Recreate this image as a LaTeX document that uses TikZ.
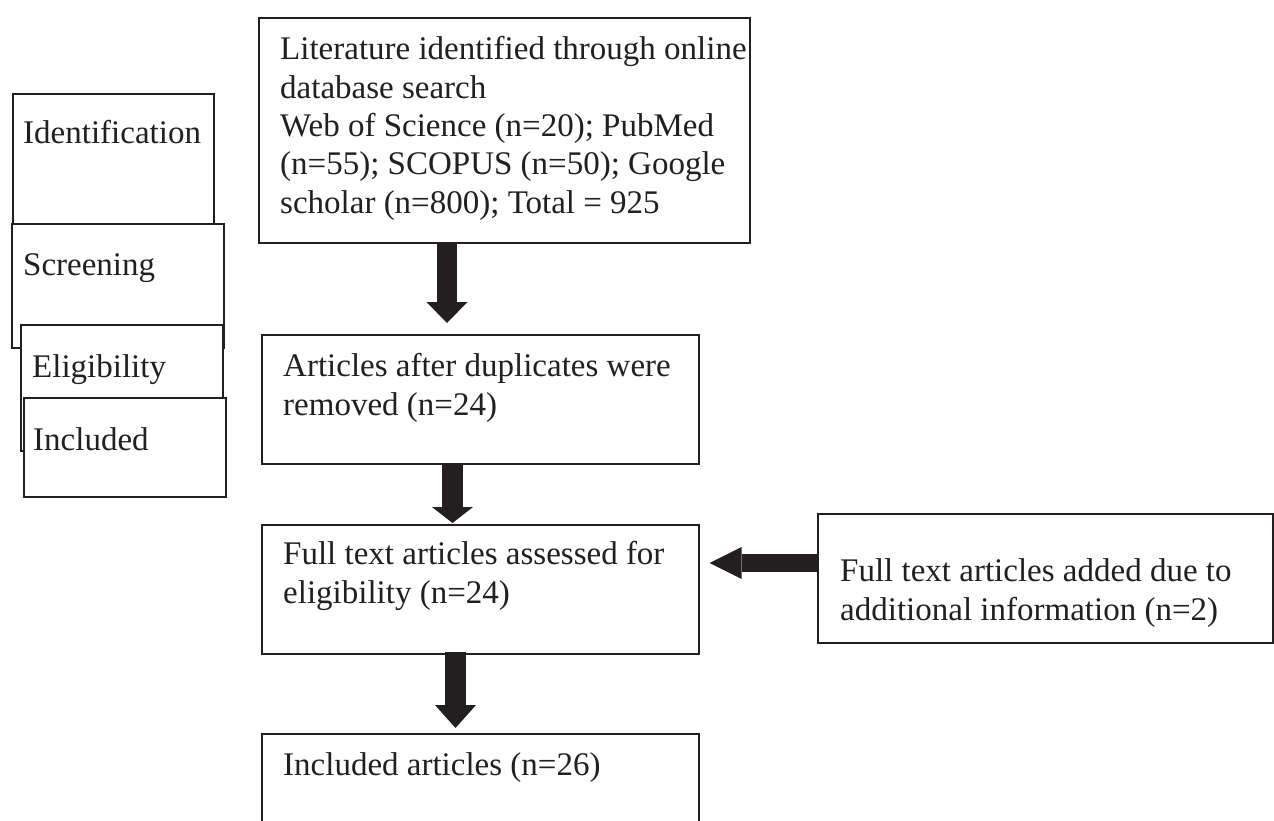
\documentclass[tikz,border=0pt]{standalone}
\usepackage{fontspec}
\setmainfont{Liberation Serif}
\usetikzlibrary{arrows.meta}
\definecolor{ink}{HTML}{231F20}
\begin{document}
\begin{tikzpicture}[x=1pt,y=-1pt,
  box/.style={draw=ink, line width=1.6pt, fill=white, rectangle, inner sep=0pt, anchor=north west},
  txt/.style={text=ink, font=\fontsize{33}{38.3}\selectfont, align=left, inner sep=0pt, anchor=base west}
]
\useasboundingbox (0,0) rectangle (1274,820);
\clip (0,0) rectangle (1274,820);
\fill[white] (0,0) rectangle (1274,820);

% stage boxes on the left
\node[box, minimum width=201pt, minimum height=130pt] (sid) at (12,93) {};
\node[txt] (tid) at (23,143) {Identification};
\node[box, minimum width=212pt, minimum height=124pt] (sscr) at (11,223) {};
\node[txt] (tscr) at (23,275) {Screening};
\node[box, minimum width=202pt, minimum height=126pt] (selig) at (20,324) {};
\node[txt] (telig) at (32,377) {Eligibility};
\node[box, minimum width=202pt, minimum height=99pt] (sinc) at (23,397) {};
\node[txt] (tinc) at (33,450) {Included};

% main flow boxes (text anchored at the baseline of its last line)
\node[box, minimum width=491pt, minimum height=225pt] (b1) at (258,17) {};
\node[txt] (t1) at (280,213) {Literature identified through online\\database search\\Web of Science (n=20); PubMed\\(n=55); SCOPUS (n=50); Google\\scholar (n=800); Total = 925};

\node[box, minimum width=437pt, minimum height=129pt] (b2) at (261,334) {};
\node[txt] (t2) at (283,415) {Articles after duplicates were\\removed (n=24)};

\node[box, minimum width=437pt, minimum height=129pt] (b3) at (261,524) {};
\node[txt] (t3) at (283,603) {Full text articles assessed for\\eligibility (n=24)};

\node[box, minimum width=437pt, minimum height=140pt] (b4) at (261,733) {};
\node[txt] (t4) at (283,775) {Included articles (n=26)};

\node[box, minimum width=455pt, minimum height=129pt] (b5) at (817,513) {};
\node[txt] (t5) at (840,620) {Full text articles added due to\\additional information (n=2)};

% block arrows
\draw[ink, line width=20pt, -{Triangle[length=21pt,width=41pt,line width=0pt]}, shorten >=11pt]
  (b1.south -| 447,0) -- (b2.north -| 447,0);
\draw[ink, line width=21pt, -{Triangle[length=16pt,width=41pt,line width=0pt]}, shorten >=1pt]
  (b2.south -| 452.5,0) -- (b3.north -| 452.5,0);
\draw[ink, line width=21pt, -{Triangle[length=23pt,width=41pt,line width=0pt]}, shorten >=5pt]
  ([yshift=3pt]b3.south -| 455.5,0) -- (b4.north -| 455.5,0);
\draw[ink, line width=18pt, -{Triangle[length=32pt,width=32pt,line width=0pt]}, shorten >=10pt]
  (b5.west |- 0,563) -- (b3.east |- 0,563);
\end{tikzpicture}
\end{document}
